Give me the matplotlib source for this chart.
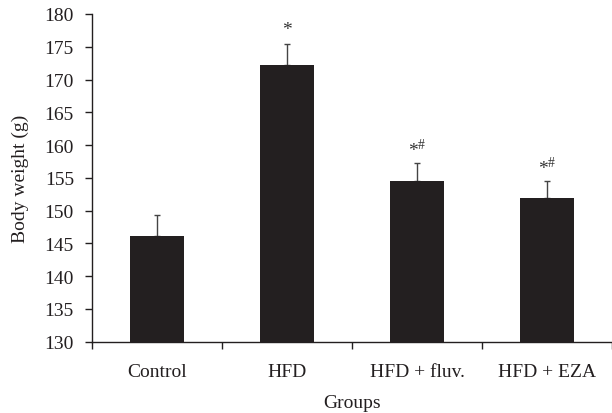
import matplotlib
matplotlib.use("Agg")
import matplotlib.pyplot as plt
import numpy as np

categories = ["Control", "HFD", "HFD + fluv.", "HFD + EZA"]
values = [146.1, 172.2, 154.5, 151.9]
errors = [3.3, 3.2, 2.8, 2.6]
annotations = ["", "*", "*$^{\\#}$", "*$^{\\#}$"]
yticks = list(range(130, 181, 5))

plt.rcParams['font.family'] = ['Liberation Serif', 'DejaVu Serif']
plt.rcParams['mathtext.fontset'] = 'custom'
plt.rcParams['mathtext.rm'] = 'Liberation Serif'

fig = plt.figure(figsize=(6.12, 4.14), dpi=100)
ax = fig.add_axes([0.1503, 0.1722, 0.8497, 0.7916])

x = np.arange(len(categories))
col = '#231f20'
ax.bar(x, [v - 130 for v in values], bottom=130, width=0.41, color=col, zorder=2)
ax.errorbar(x, values, yerr=[np.zeros(len(errors)), errors], fmt='none',
            ecolor='#444444', elinewidth=1.0, capsize=2.5, capthick=1.0, zorder=1)

for xi, v, e, a in zip(x, values, errors, annotations):
    if a:
        ax.text(xi, v + e + 0.9, a, ha='center', va='bottom', fontsize=14, color='#333333')

ax.set_xlim(-0.5, 3.5)
ax.set_ylim(130, 180)
ax.set_yticks(yticks)
ax.set_xticks([-0.5, 0.5, 1.5, 2.5, 3.5])
ax.set_xticklabels([])
ax.set_xticks(x, minor=True)
ax.set_xticklabels(categories, minor=True)
ax.tick_params(axis='x', which='minor', length=0, pad=15, labelsize=14, colors='#231f20')
ax.tick_params(axis='x', which='major', length=5, width=1.0, direction='out', colors='#231f20')
ax.tick_params(axis='y', length=5, width=1.0, direction='out', labelsize=14, pad=8, colors='#231f20')

for s in ['top', 'right']:
    ax.spines[s].set_visible(False)
for s in ['left', 'bottom']:
    ax.spines[s].set_linewidth(1.0)
    ax.spines[s].set_color('#231f20')

ax.set_xlabel("Groups", fontsize=14, color='#231f20', labelpad=10.5)
ax.set_ylabel("Body weight (g)", fontsize=14, color='#231f20', labelpad=11)

fig.savefig("out.png", dpi=100)
